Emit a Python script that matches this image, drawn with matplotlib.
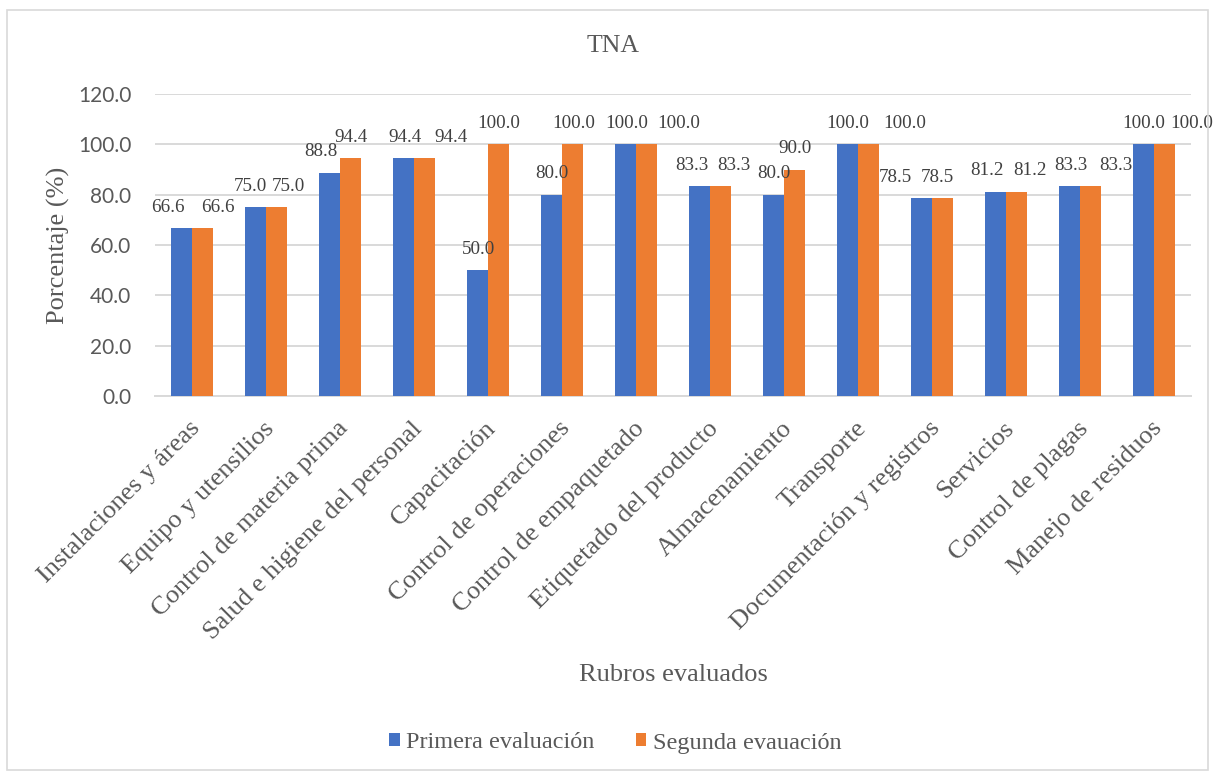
import matplotlib
matplotlib.use("Agg")
import matplotlib.pyplot as plt
import matplotlib.transforms as mtransforms
from matplotlib.patches import Patch, Rectangle
import numpy as np

# --- data ---------------------------------------------------------------
rubros = [
    "Instalaciones y áreas",
    "Equipo y utensilios",
    "Control de materia prima",
    "Salud e higiene del personal",
    "Capacitación",
    "Control de operaciones",
    "Control de empaquetado",
    "Etiquetado del producto",
    "Almacenamiento",
    "Transporte",
    "Documentación y registros",
    "Servicios",
    "Control de plagas",
    "Manejo de residuos",
]
primera = [66.6, 75.0, 88.8, 94.4, 50.0, 80.0, 100.0, 83.3, 80.0, 100.0, 78.5, 81.2, 83.3, 100.0]
segunda = [66.6, 75.0, 94.4, 94.4, 100.0, 100.0, 100.0, 83.3, 90.0, 100.0, 78.5, 81.2, 83.3, 100.0]
serie_nombres = ["Primera evaluación", "Segunda evauación"]
y_ticks = [0, 20, 40, 60, 80, 100, 120]

# horizontal nudges (pixels) for the value labels so neighbours do not collide
dx_primera = [-13, -5, -8, 2, 1, 1, 1, -7, 1, 0, -26, -8, 2, 0]
dx_segunda = [15, 12, 0, 26, 0, 1, 32, 13, 0, 36, -5, 13, 25, 27]

# --- style --------------------------------------------------------------
AZUL = "#4472C4"
NARANJA = "#ED7D31"
GRIS_TXT = "#595959"
GRIS_LBL = "#404040"
GRIS_GRID = "#D9D9D9"
SERIF = "Liberation Serif"
SANS = "Lato"

W, H = 1215, 776
fig = plt.figure(figsize=(W / 100, H / 100), dpi=100)
fig.patch.set_facecolor("white")

# chart-area border
fig.patches.append(Rectangle((7 / W, 1 - 770 / H), (1208 - 7) / W, (770 - 10) / H,
                             transform=fig.transFigure, fill=False,
                             edgecolor=GRIS_GRID, linewidth=1.2))

ax = fig.add_axes([155 / W, 1 - 396 / H, (1191 - 155) / W, (396 - 94) / H])

x = np.arange(len(rubros))
w = 0.29
b1 = ax.bar(x - w / 2, primera, w, color=AZUL, zorder=3)
b2 = ax.bar(x + w / 2, segunda, w, color=NARANJA, zorder=3)

ax.set_xlim(-0.5, len(rubros) - 0.5)
ax.set_ylim(0, 120)
ax.set_yticks(y_ticks)
ax.set_yticklabels([f"{v:.1f}" for v in y_ticks], fontfamily=SANS, fontsize=15, color=GRIS_TXT)
ax.yaxis.grid(True, color=GRIS_GRID, linewidth=1.4, zorder=0)
ax.set_axisbelow(True)
ax.tick_params(axis="y", length=0, pad=17)
ax.tick_params(axis="x", length=0, pad=21)

for s in ["top", "right", "left"]:
    ax.spines[s].set_visible(False)
ax.spines["bottom"].set_color(GRIS_GRID)
ax.spines["bottom"].set_linewidth(1.4)

ax.set_xticks(x)
ax.set_xticklabels(rubros, rotation=45, ha="right", va="center",
                   rotation_mode="anchor", fontfamily=SERIF, fontsize=19, color=GRIS_TXT)
shift = mtransforms.ScaledTranslation(5 / 100, 0, fig.dpi_scale_trans)
for lbl in ax.get_xticklabels():
    lbl.set_transform(lbl.get_transform() + shift)

# value labels
for bars, vals, dxs in [(b1, primera, dx_primera), (b2, segunda, dx_segunda)]:
    for rect, v, dx in zip(bars, vals, dxs):
        ax.annotate(f"{v:.1f}", (rect.get_x() + rect.get_width() / 2, v),
                    xytext=(dx, 21), textcoords="offset pixels",
                    ha="center", va="center", fontfamily=SERIF, fontsize=13.7,
                    color=GRIS_LBL, zorder=4, annotation_clip=False)

# titles
fig.text(613 / W, 1 - 46 / H, "TNA", ha="center", va="center",
         fontfamily=SERIF, fontsize=18.5, color=GRIS_TXT)
fig.text(58 / W, 1 - 245 / H, "Porcentaje (%)", ha="center", va="center", rotation=90,
         fontfamily=SERIF, fontsize=19, color=GRIS_TXT)
fig.text(673 / W, 1 - 675 / H, "Rubros evaluados", ha="center", va="center",
         fontfamily=SERIF, fontsize=19, color=GRIS_TXT)

handles = [Patch(facecolor=AZUL, edgecolor="none"), Patch(facecolor=NARANJA, edgecolor="none")]
leg = fig.legend(handles, serie_nombres, loc="center", bbox_to_anchor=(615 / W, 1 - 743 / H),
                 ncol=2, frameon=False, handlelength=0.45, handleheight=0.45,
                 handletextpad=0.25, columnspacing=1.7,
                 prop={"family": SERIF, "size": 17.5})
for t in leg.get_texts():
    t.set_color(GRIS_TXT)

fig.savefig("out.png", dpi=100, facecolor="white")
